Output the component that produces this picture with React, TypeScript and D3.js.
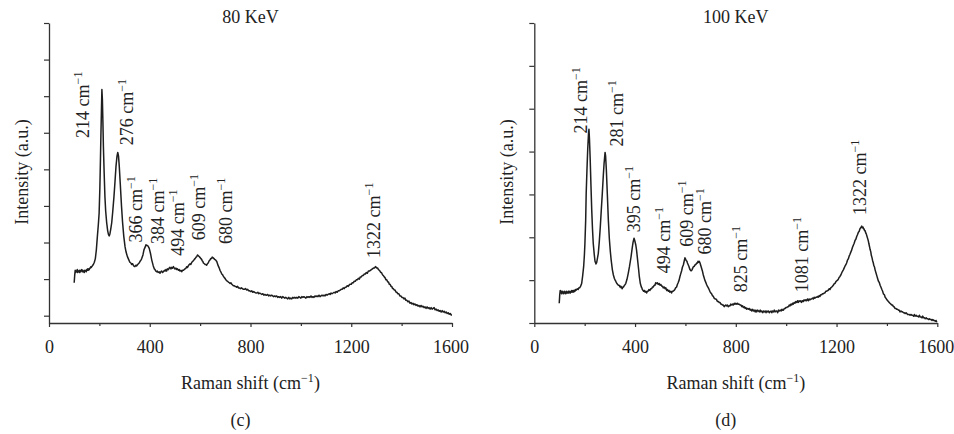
import React, { useEffect, useRef } from "react";
import * as d3 from "d3";

// Raman spectra (Raman shift cm^-1, intensity a.u.)
const spectrum80: [number, number][] = [
  [100, 0.95], [102, 1.05], [104, 1.12], [106, 1.09], [108, 1.11], [110, 1.1], [112, 1.13], [114, 1.09], [116, 1.11],
  [118, 1.1], [120, 1.12], [122, 1.09], [124, 1.1], [126, 1.12], [128, 1.11], [130, 1.13], [132, 1.1], [134, 1.12],
  [136, 1.1], [138, 1.11], [140, 1.09], [142, 1.12], [144, 1.11], [146, 1.12], [148, 1.1], [150, 1.13], [152, 1.12],
  [154, 1.14], [156, 1.12], [158, 1.14], [160, 1.13], [162, 1.15], [164, 1.15], [166, 1.17], [168, 1.16], [172, 1.18],
  [176, 1.2], [180, 1.23], [184, 1.28], [188, 1.4], [192, 1.58], [196, 1.75], [199, 1.9], [202, 2.25], [204, 2.59],
  [206, 2.95], [208, 3.27], [210, 3.59], [212, 3.45], [214, 3.15], [216, 2.81], [219, 2.45], [222, 2.13], [225, 1.93],
  [229, 1.77], [233, 1.66], [236, 1.61], [239, 1.59], [242, 1.62], [245, 1.68], [249, 1.77], [253, 1.92], [258, 2.13],
  [262, 2.33], [266, 2.54], [270, 2.68], [273, 2.73], [276, 2.68], [279, 2.54], [283, 2.3], [288, 1.99], [292, 1.78],
  [297, 1.58], [302, 1.44], [306, 1.37], [311, 1.31], [316, 1.27], [321, 1.23], [325, 1.22], [328, 1.2], [332, 1.21],
  [336, 1.18], [341, 1.17], [345, 1.19], [348, 1.18], [352, 1.2], [355, 1.21], [358, 1.22], [361, 1.24], [365, 1.26],
  [368, 1.28], [373, 1.33], [377, 1.4], [382, 1.44], [385, 1.47], [388, 1.46], [391, 1.46], [395, 1.44], [398, 1.42],
  [403, 1.35], [408, 1.26], [414, 1.18], [418, 1.14], [421, 1.13], [424, 1.11], [427, 1.1], [430, 1.11], [433, 1.09],
  [437, 1.1], [441, 1.08], [444, 1.1], [447, 1.11], [451, 1.09], [454, 1.1], [458, 1.12], [461, 1.11], [464, 1.13],
  [467, 1.11], [470, 1.14], [474, 1.13], [477, 1.15], [480, 1.16], [484, 1.14], [487, 1.16], [490, 1.15], [494, 1.17],
  [497, 1.15], [500, 1.14], [504, 1.15], [507, 1.13], [510, 1.14], [514, 1.12], [517, 1.13], [520, 1.11], [524, 1.12],
  [527, 1.1], [530, 1.12], [534, 1.12], [537, 1.13], [540, 1.14], [544, 1.15], [547, 1.17], [550, 1.16], [553, 1.18],
  [557, 1.2], [560, 1.21], [563, 1.2], [567, 1.23], [570, 1.24], [573, 1.25], [577, 1.27], [580, 1.28], [584, 1.3],
  [587, 1.31], [590, 1.33], [593, 1.32], [596, 1.31], [598, 1.3], [601, 1.29], [603, 1.28], [606, 1.27], [608, 1.25],
  [611, 1.24], [613, 1.22], [617, 1.21], [620, 1.2], [623, 1.2], [626, 1.19], [629, 1.21], [632, 1.22], [636, 1.25],
  [639, 1.26], [642, 1.28], [645, 1.28], [648, 1.3], [652, 1.29], [655, 1.28], [658, 1.27], [662, 1.26], [666, 1.24],
  [669, 1.21], [672, 1.18], [676, 1.15], [679, 1.12], [682, 1.1], [686, 1.07], [689, 1.06], [692, 1.04], [696, 1.02],
  [699, 1.01], [702, 0.99], [705, 0.98], [709, 0.97], [712, 0.96], [716, 0.95], [719, 0.94], [722, 0.95], [726, 0.93],
  [729, 0.92], [732, 0.91], [736, 0.91], [739, 0.9], [742, 0.9], [745, 0.89], [749, 0.9], [752, 0.88], [756, 0.88],
  [760, 0.87], [764, 0.88], [768, 0.87], [772, 0.86], [776, 0.86], [780, 0.87], [785, 0.85], [789, 0.86], [793, 0.84],
  [797, 0.84], [801, 0.83], [805, 0.84], [809, 0.82], [813, 0.83], [817, 0.82], [821, 0.81], [825, 0.81], [829, 0.82],
  [833, 0.8], [837, 0.81], [841, 0.8], [845, 0.79], [849, 0.8], [853, 0.78], [857, 0.79], [861, 0.78], [864, 0.78],
  [868, 0.79], [872, 0.77], [876, 0.78], [880, 0.77], [884, 0.78], [888, 0.77], [892, 0.76], [896, 0.77], [900, 0.76],
  [904, 0.77], [908, 0.75], [912, 0.76], [916, 0.75], [920, 0.76], [924, 0.74], [928, 0.76], [932, 0.75], [936, 0.74],
  [940, 0.75], [944, 0.74], [948, 0.73], [952, 0.75], [956, 0.73], [960, 0.74], [964, 0.73], [968, 0.75], [972, 0.74],
  [976, 0.75], [980, 0.74], [984, 0.75], [988, 0.74], [992, 0.76], [996, 0.75], [1000, 0.74], [1004, 0.76], [1008, 0.75],
  [1012, 0.76], [1016, 0.75], [1020, 0.74], [1024, 0.76], [1028, 0.75], [1032, 0.76], [1036, 0.75], [1040, 0.77],
  [1044, 0.75], [1048, 0.76], [1052, 0.75], [1056, 0.77], [1060, 0.76], [1064, 0.77], [1068, 0.76], [1072, 0.78],
  [1076, 0.76], [1080, 0.77], [1084, 0.78], [1088, 0.77], [1092, 0.78], [1096, 0.77], [1100, 0.79], [1104, 0.78],
  [1108, 0.79], [1112, 0.8], [1116, 0.79], [1120, 0.81], [1124, 0.8], [1128, 0.81], [1132, 0.82], [1136, 0.81],
  [1140, 0.83], [1144, 0.82], [1148, 0.84], [1152, 0.84], [1156, 0.85], [1160, 0.86], [1164, 0.86], [1168, 0.88],
  [1172, 0.87], [1176, 0.89], [1180, 0.89], [1184, 0.91], [1188, 0.9], [1192, 0.92], [1196, 0.93], [1200, 0.93],
  [1204, 0.95], [1208, 0.95], [1212, 0.97], [1216, 0.97], [1220, 0.99], [1224, 0.99], [1228, 1.01], [1232, 1.0],
  [1236, 1.03], [1240, 1.03], [1244, 1.05], [1248, 1.05], [1252, 1.07], [1256, 1.07], [1260, 1.09], [1264, 1.08],
  [1268, 1.11], [1272, 1.11], [1276, 1.12], [1280, 1.13], [1284, 1.14], [1288, 1.15], [1292, 1.15], [1296, 1.17],
  [1299, 1.16], [1302, 1.15], [1305, 1.15], [1308, 1.13], [1311, 1.12], [1314, 1.11], [1317, 1.09], [1320, 1.09],
  [1324, 1.06], [1327, 1.05], [1331, 1.03], [1334, 1.02], [1338, 0.99], [1341, 0.99], [1345, 0.96], [1348, 0.96],
  [1351, 0.93], [1354, 0.93], [1358, 0.9], [1361, 0.9], [1364, 0.87], [1367, 0.87], [1371, 0.85], [1374, 0.85],
  [1378, 0.82], [1381, 0.82], [1385, 0.8], [1389, 0.8], [1393, 0.77], [1397, 0.77], [1401, 0.75], [1405, 0.75],
  [1409, 0.73], [1413, 0.74], [1417, 0.71], [1421, 0.71], [1425, 0.69], [1429, 0.7], [1433, 0.67], [1437, 0.68],
  [1441, 0.66], [1445, 0.67], [1449, 0.65], [1453, 0.66], [1457, 0.64], [1461, 0.65], [1465, 0.63], [1469, 0.64],
  [1473, 0.62], [1477, 0.64], [1481, 0.62], [1485, 0.63], [1489, 0.61], [1493, 0.62], [1497, 0.6], [1501, 0.62],
  [1505, 0.6], [1509, 0.61], [1513, 0.59], [1517, 0.61], [1521, 0.59], [1525, 0.6], [1529, 0.61], [1533, 0.58],
  [1537, 0.59], [1541, 0.57], [1545, 0.58], [1549, 0.56], [1553, 0.57], [1557, 0.55], [1561, 0.57], [1565, 0.55],
  [1569, 0.56], [1573, 0.54], [1577, 0.55], [1581, 0.53], [1585, 0.54], [1589, 0.52], [1593, 0.53], [1597, 0.51],
  [1600, 0.51],
];

const spectrum100: [number, number][] = [
  [99, 0.23], [101, 0.33], [103, 0.38], [105, 0.35], [107, 0.37], [109, 0.34], [111, 0.37], [113, 0.35], [115, 0.36],
  [117, 0.34], [119, 0.37], [121, 0.35], [123, 0.36], [125, 0.34], [127, 0.37], [129, 0.35], [131, 0.36], [133, 0.35],
  [135, 0.37], [137, 0.35], [139, 0.37], [141, 0.36], [143, 0.35], [145, 0.37], [147, 0.36], [149, 0.38], [151, 0.36],
  [153, 0.37], [155, 0.38], [157, 0.36], [159, 0.38], [161, 0.37], [163, 0.39], [165, 0.38], [168, 0.39], [171, 0.4],
  [174, 0.39], [177, 0.41], [180, 0.41], [184, 0.43], [188, 0.46], [192, 0.55], [196, 0.66], [199, 0.8], [201, 0.93],
  [204, 1.2], [206, 1.51], [209, 1.78], [212, 2.02], [215, 2.2], [217, 2.26], [219, 2.15], [222, 1.9], [225, 1.6],
  [228, 1.32], [231, 1.1], [234, 0.93], [238, 0.8], [241, 0.72], [245, 0.69], [248, 0.71], [251, 0.76], [254, 0.81],
  [258, 0.95], [262, 1.12], [266, 1.32], [270, 1.51], [274, 1.72], [277, 1.86], [281, 1.99], [283, 1.95], [286, 1.79],
  [290, 1.5], [294, 1.2], [298, 0.98], [302, 0.83], [305, 0.74], [310, 0.62], [314, 0.56], [318, 0.52], [321, 0.5],
  [323, 0.49], [326, 0.47], [328, 0.46], [331, 0.45], [334, 0.44], [337, 0.44], [340, 0.42], [343, 0.43], [345, 0.41],
  [347, 0.42], [349, 0.4], [352, 0.42], [354, 0.42], [356, 0.43], [358, 0.44], [361, 0.45], [363, 0.46], [366, 0.49],
  [368, 0.51], [373, 0.58], [378, 0.66], [384, 0.77], [388, 0.86], [392, 0.94], [396, 0.99], [399, 0.96], [403, 0.91],
  [406, 0.85], [410, 0.74], [414, 0.63], [417, 0.54], [421, 0.46], [425, 0.42], [427, 0.41], [429, 0.39], [432, 0.38],
  [434, 0.37], [437, 0.38], [440, 0.36], [443, 0.37], [446, 0.35], [449, 0.37], [452, 0.37], [455, 0.39], [459, 0.38],
  [462, 0.4], [466, 0.4], [469, 0.42], [472, 0.42], [476, 0.44], [479, 0.44], [482, 0.47], [486, 0.46], [489, 0.47],
  [492, 0.45], [496, 0.46], [499, 0.44], [502, 0.45], [506, 0.43], [509, 0.43], [512, 0.41], [516, 0.42], [519, 0.4],
  [522, 0.41], [526, 0.38], [529, 0.39], [532, 0.37], [535, 0.38], [538, 0.36], [542, 0.37], [545, 0.35], [548, 0.37],
  [551, 0.37], [555, 0.38], [558, 0.39], [561, 0.41], [565, 0.42], [568, 0.45], [571, 0.47], [575, 0.5], [578, 0.54],
  [581, 0.57], [585, 0.61], [588, 0.65], [592, 0.68], [595, 0.72], [598, 0.76], [600, 0.75], [603, 0.73], [606, 0.72],
  [608, 0.7], [611, 0.68], [614, 0.66], [617, 0.63], [621, 0.61], [624, 0.61], [626, 0.62], [629, 0.64], [632, 0.66],
  [635, 0.66], [638, 0.68], [641, 0.68], [645, 0.7], [648, 0.7], [650, 0.72], [653, 0.71], [655, 0.72], [658, 0.7],
  [660, 0.68], [663, 0.65], [665, 0.63], [668, 0.6], [671, 0.56], [674, 0.53], [677, 0.5], [680, 0.48], [684, 0.45],
  [687, 0.43], [691, 0.41], [694, 0.39], [697, 0.37], [701, 0.35], [704, 0.34], [707, 0.32], [711, 0.31], [714, 0.29],
  [718, 0.28], [721, 0.28], [724, 0.27], [727, 0.25], [731, 0.25], [734, 0.24], [737, 0.24], [741, 0.22], [744, 0.22],
  [747, 0.21], [750, 0.21], [754, 0.19], [757, 0.2], [760, 0.21], [764, 0.2], [767, 0.21], [770, 0.19], [774, 0.2],
  [777, 0.2], [780, 0.22], [784, 0.21], [787, 0.22], [790, 0.21], [794, 0.23], [797, 0.22], [800, 0.23], [804, 0.22],
  [807, 0.23], [810, 0.22], [814, 0.22], [817, 0.21], [820, 0.21], [824, 0.19], [827, 0.2], [830, 0.18], [834, 0.19],
  [837, 0.17], [840, 0.18], [843, 0.16], [847, 0.17], [850, 0.16], [853, 0.17], [857, 0.15], [860, 0.16], [863, 0.14],
  [867, 0.16], [870, 0.14], [873, 0.15], [877, 0.13], [880, 0.15], [883, 0.13], [887, 0.15], [890, 0.14], [893, 0.13],
  [897, 0.15], [900, 0.13], [903, 0.14], [907, 0.12], [910, 0.14], [913, 0.13], [917, 0.14], [920, 0.12], [923, 0.14],
  [927, 0.13], [930, 0.14], [933, 0.12], [936, 0.13], [940, 0.14], [943, 0.12], [946, 0.14], [950, 0.13], [953, 0.15],
  [956, 0.13], [960, 0.14], [963, 0.14], [966, 0.12], [970, 0.15], [973, 0.14], [976, 0.15], [980, 0.14], [983, 0.16],
  [986, 0.15], [989, 0.15], [993, 0.17], [996, 0.17], [999, 0.18], [1002, 0.18], [1006, 0.19], [1009, 0.19],
  [1012, 0.21], [1015, 0.2], [1019, 0.22], [1022, 0.21], [1025, 0.23], [1028, 0.22], [1032, 0.24], [1035, 0.23],
  [1038, 0.25], [1042, 0.24], [1045, 0.26], [1048, 0.24], [1051, 0.26], [1055, 0.25], [1058, 0.26], [1061, 0.24],
  [1065, 0.26], [1068, 0.25], [1071, 0.27], [1075, 0.26], [1078, 0.27], [1081, 0.26], [1085, 0.28], [1088, 0.26],
  [1091, 0.28], [1094, 0.27], [1098, 0.28], [1101, 0.28], [1104, 0.29], [1108, 0.28], [1111, 0.3], [1114, 0.29],
  [1118, 0.3], [1121, 0.3], [1124, 0.31], [1127, 0.3], [1131, 0.32], [1134, 0.31], [1137, 0.33], [1141, 0.33],
  [1144, 0.34], [1147, 0.34], [1151, 0.35], [1154, 0.35], [1157, 0.37], [1161, 0.37], [1164, 0.38], [1167, 0.38],
  [1171, 0.4], [1174, 0.39], [1177, 0.41], [1181, 0.42], [1184, 0.43], [1187, 0.44], [1191, 0.46], [1194, 0.46],
  [1197, 0.48], [1200, 0.49], [1204, 0.5], [1207, 0.51], [1210, 0.53], [1213, 0.54], [1217, 0.56], [1220, 0.58],
  [1223, 0.6], [1227, 0.62], [1230, 0.64], [1233, 0.66], [1237, 0.68], [1240, 0.7], [1243, 0.73], [1247, 0.75],
  [1250, 0.78], [1253, 0.8], [1257, 0.83], [1260, 0.85], [1263, 0.88], [1267, 0.91], [1270, 0.93], [1273, 0.96],
  [1277, 0.98], [1280, 1.01], [1283, 1.03], [1287, 1.06], [1290, 1.07], [1293, 1.1], [1296, 1.11], [1300, 1.13],
  [1302, 1.11], [1305, 1.12], [1307, 1.1], [1309, 1.1], [1311, 1.08], [1313, 1.08], [1316, 1.05], [1318, 1.04],
  [1321, 1.01], [1323, 0.99], [1326, 0.96], [1328, 0.93], [1331, 0.89], [1333, 0.86], [1336, 0.83], [1338, 0.79],
  [1341, 0.76], [1343, 0.73], [1346, 0.7], [1348, 0.67], [1351, 0.65], [1353, 0.62], [1357, 0.58], [1360, 0.55],
  [1363, 0.52], [1366, 0.49], [1370, 0.47], [1373, 0.44], [1376, 0.42], [1380, 0.39], [1383, 0.37], [1386, 0.34],
  [1390, 0.33], [1393, 0.3], [1396, 0.29], [1400, 0.27], [1403, 0.26], [1406, 0.25], [1409, 0.24], [1412, 0.23],
  [1416, 0.22], [1419, 0.21], [1422, 0.21], [1426, 0.19], [1429, 0.19], [1432, 0.17], [1436, 0.17], [1439, 0.16],
  [1442, 0.16], [1446, 0.15], [1449, 0.15], [1452, 0.13], [1456, 0.14], [1459, 0.13], [1462, 0.13], [1466, 0.12],
  [1469, 0.12], [1472, 0.11], [1476, 0.12], [1479, 0.11], [1482, 0.1], [1486, 0.1], [1489, 0.1], [1492, 0.09],
  [1496, 0.1], [1499, 0.09], [1502, 0.09], [1506, 0.08], [1509, 0.1], [1512, 0.08], [1516, 0.09], [1519, 0.08],
  [1522, 0.08], [1526, 0.07], [1529, 0.09], [1532, 0.07], [1536, 0.07], [1539, 0.06], [1542, 0.08], [1546, 0.06],
  [1549, 0.06], [1552, 0.05], [1556, 0.06], [1559, 0.05], [1562, 0.05], [1566, 0.04], [1569, 0.05], [1572, 0.04],
  [1576, 0.04], [1579, 0.03], [1582, 0.04], [1586, 0.03], [1589, 0.03], [1592, 0.02], [1595, 0.03], [1598, 0.01],
];

// Peak annotations: label, anchor shift (cm^-1), anchor intensity
const peaks80: [string, number, number][] = [
  ["214", 160, 2.93],
  ["276", 334, 2.83],
  ["366", 369, 1.5],
  ["384", 456, 1.48],
  ["494", 536, 1.32],
  ["609", 619, 1.53],
  ["680", 725, 1.48],
  ["1322", 1314, 1.29],
];

const peaks100: [string, number, number][] = [
  ["214", 209, 2.21],
  ["281", 352, 2.06],
  ["395", 420, 1.06],
  ["494", 540, 0.58],
  ["609", 630, 0.89],
  ["680", 702, 0.8],
  ["825", 845, 0.36],
  ["1081", 1087, 0.36],
  ["1322", 1317, 1.26],
];

const xMajorTicks = [0, 400, 800, 1200, 1600];
const xMinorTicks = [200, 600, 1000, 1400];
const yTicks80 = [0.5, 1, 1.5, 2, 2.5, 3, 3.5, 4, 4.5];
const yTicks100 = [0, 0.5, 1, 1.5, 2, 2.5, 3, 3.5];

const FONT = "'Liberation Serif', 'Times New Roman', serif";
const FS = 18;

type PanelProps = {
  data: [number, number][];
  peaks: [string, number, number][];
  x0: number;
  yDomain: [number, number];
  yTicks: number[];
  title: string;
  tag: string;
  ylabelX: number;
};

function Panel({ data, peaks, x0, yDomain, yTicks, title, tag, ylabelX }: PanelProps) {
  const ref = useRef<SVGGElement>(null);
  const width = 403;
  const top = 23;
  const bottom = 323;
  useEffect(() => {
    const g = d3.select(ref.current);
    g.selectAll("*").remove();
    const x = d3.scaleLinear().domain([0, 1600]).range([x0, x0 + width]);
    const y = d3.scaleLinear().domain(yDomain).range([bottom, top]);

    // x axis
    const xa = g.append("g").attr("transform", `translate(0,${bottom})`)
      .call(d3.axisBottom(x).tickValues(xMajorTicks).tickFormat(d3.format("d")).tickSize(4).tickSizeOuter(0).tickPadding(13));
    xa.select(".domain").attr("stroke", "#333").attr("stroke-width", 1.3);
    xa.selectAll(".tick line").attr("stroke", "#333").attr("stroke-width", 1.2);
    xa.selectAll(".tick text").attr("font-family", FONT).attr("font-size", FS).attr("fill", "#222")
      .attr("dx", (d: any) => (d === 1600 ? -1.5 : 0));
    const xm = g.append("g").attr("transform", `translate(0,${bottom})`)
      .call(d3.axisBottom(x).tickValues(xMinorTicks).tickSize(3).tickSizeOuter(0).tickFormat(() => ""));
    xm.select(".domain").remove();
    xm.selectAll(".tick line").attr("stroke", "#333").attr("stroke-width", 1.2);

    // y axis
    const ya = g.append("g").attr("transform", `translate(${x0},0)`)
      .call(d3.axisLeft(y).tickValues(yTicks).tickSize(5).tickSizeOuter(0).tickFormat(() => ""));
    ya.select(".domain").attr("stroke", "#333").attr("stroke-width", 1.3);
    ya.selectAll(".tick line").attr("stroke", "#333").attr("stroke-width", 1.2);

    // spectrum
    const line = d3.line<[number, number]>().x((d) => x(d[0])).y((d) => y(d[1]));
    g.append("path").datum(data).attr("d", line).attr("fill", "none")
      .attr("stroke", "#1e1e1e").attr("stroke-width", 1.5).attr("stroke-linejoin", "round");

    // peak labels
    peaks.forEach(([lab, px, py]) => {
      const t = g.append("text")
        .attr("transform", `translate(${x(px)},${y(py)}) rotate(-90)`)
        .attr("font-family", FONT).attr("font-size", FS).attr("fill", "#222");
      t.append("tspan").text(`${lab} cm`);
      t.append("tspan").attr("dy", -7).attr("font-size", 12).text("\u22121");
    });

    // title
    g.append("text").attr("x", x0 + width / 2).attr("y", 23).attr("text-anchor", "middle")
      .attr("font-family", FONT).attr("font-size", FS).attr("fill", "#222").text(title);

    // y label
    g.append("text").attr("transform", `translate(${ylabelX},172) rotate(-90)`).attr("text-anchor", "middle")
      .attr("font-family", FONT).attr("font-size", FS).attr("fill", "#222").text("Intensity (a.u.)");

    // x label
    const xl = g.append("text").attr("x", x0 + width / 2).attr("y", 389).attr("text-anchor", "middle")
      .attr("font-family", FONT).attr("font-size", FS).attr("fill", "#222");
    xl.append("tspan").text("Raman shift (cm");
    xl.append("tspan").attr("dy", -7).attr("font-size", 12).text("\u22121");
    xl.append("tspan").attr("dy", 7).text(")");

    // panel tag
    g.append("text").attr("x", x0 + width / 2 - 10).attr("y", 426).attr("text-anchor", "middle")
      .attr("font-family", FONT).attr("font-size", FS).attr("fill", "#222").text(tag);
  }, []);
  return <g ref={ref} />;
}

export default function App() {
  return (
    <svg width={954} height={434} style={{ position: "absolute", left: 0, top: 0, background: "#fff" }}>
      <rect width={954} height={434} fill="#fff" />
      <Panel data={spectrum80} peaks={peaks80} x0={49} yDomain={[0.4, 4.5]} yTicks={yTicks80}
        title="80 KeV" tag="(c)" ylabelX={28} />
      <Panel data={spectrum100} peaks={peaks100} x0={534.3} yDomain={[0, 3.5]} yTicks={yTicks100}
        title="100 KeV" tag="(d)" ylabelX={513} />
    </svg>
  );
}
